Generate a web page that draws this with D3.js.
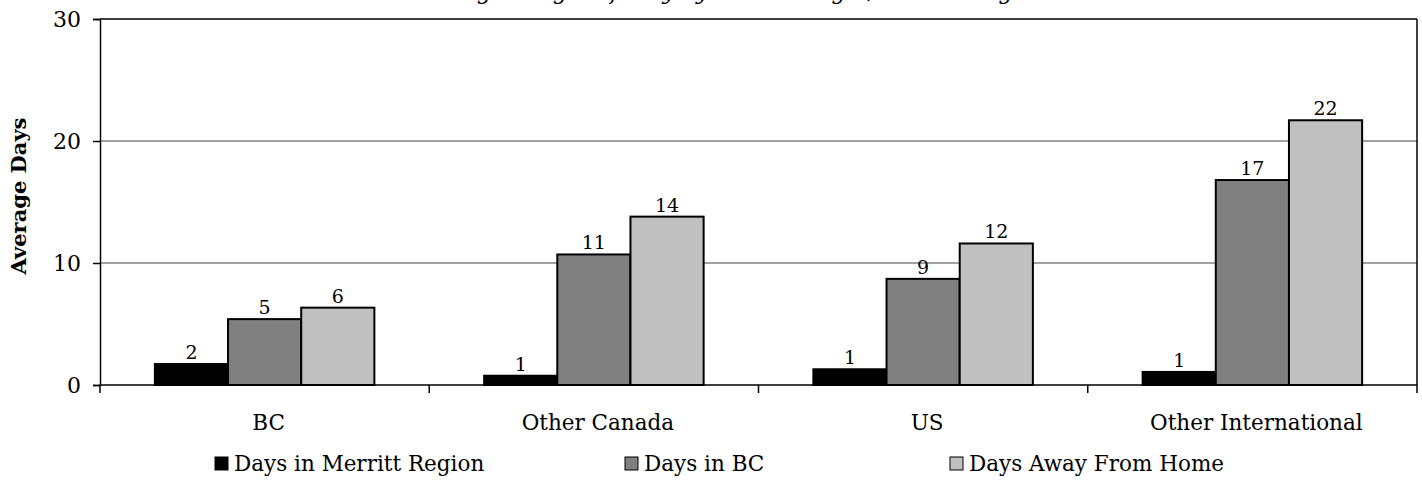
<!DOCTYPE html>
<html>
<head>
<meta charset="utf-8">
<script src="https://cdn.jsdelivr.net/npm/d3@7"></script>
<style>
  html, body { margin: 0; padding: 0; background: #fff; }
  svg { display: block; }
  text { font-family: "DejaVu Serif", "Liberation Serif", serif; fill: #000; }
</style>
</head>
<body>
<svg id="chart" width="1422" height="480"></svg>
<script>
// Average days by visitor origin
const categories = ["BC", "Other Canada", "US", "Other International"];
const seriesNames = ["Days in Merritt Region", "Days in BC", "Days Away From Home"];
const merrittDays = [1.72, 0.76, 1.29, 1.07];
const bcDays = [5.4, 10.7, 8.7, 16.8];
const awayDays = [6.34, 13.8, 11.6, 21.7];
const seriesColors = ["#000000", "#808080", "#c0c0c0"];
const yTicks = [0, 10, 20, 30];
const titleText = "Average Length of Stay by Visitor Origin, Merritt Region";

const series = [merrittDays, bcDays, awayDays];

const W = 1422, H = 480;
const m = { left: 100, right: 1417, top: 19, bottom: 385 };

const svg = d3.select("#chart");

const x0 = d3.scaleBand().domain(categories).range([m.left, m.right]).padding(0);
// Excel-style gap width of 150%: three bars plus 1.5 bar widths of gap per band
const x1 = d3.scaleBand().domain(d3.range(series.length))
  .range([0, x0.bandwidth()]).paddingInner(0).paddingOuter(0.75);
const y = d3.scaleLinear().domain([0, 30]).range([m.bottom, m.top]);

// Title (sits above the plot, mostly beyond the top edge)
svg.append("text")
  .attr("x", 730).attr("y", -1)
  .attr("text-anchor", "middle")
  .attr("font-style", "italic")
  .attr("font-size", 22)
  .text(titleText);

// Gridlines
svg.append("g").selectAll("line")
  .data(yTicks.filter(t => t > 0 && t < 30))
  .join("line")
  .attr("x1", m.left).attr("x2", m.right)
  .attr("y1", d => y(d)).attr("y2", d => y(d))
  .attr("stroke", "#808080").attr("stroke-width", 1.5);

// Top and right frame
svg.append("line")
  .attr("x1", m.left).attr("x2", m.right)
  .attr("y1", y(30)).attr("y2", y(30))
  .attr("stroke", "#000").attr("stroke-width", 1.5);
svg.append("line")
  .attr("x1", m.right).attr("x2", m.right)
  .attr("y1", y(30)).attr("y2", m.bottom)
  .attr("stroke", "#000").attr("stroke-width", 1.5);

// Bars
const groups = svg.append("g").selectAll("g")
  .data(categories)
  .join("g")
  .attr("transform", d => `translate(${x0(d)},0)`);

groups.selectAll("rect")
  .data((c, i) => series.map((s, k) => ({ k, v: s[i] })))
  .join("rect")
  .attr("x", d => x1(d.k))
  .attr("width", x1.bandwidth())
  .attr("y", d => y(d.v))
  .attr("height", d => y(0) - y(d.v))
  .attr("fill", d => seriesColors[d.k])
  .attr("stroke", "#000")
  .attr("stroke-width", 2);

// Value labels
groups.selectAll("text.val")
  .data((c, i) => series.map((s, k) => ({ k, v: s[i] })))
  .join("text")
  .attr("class", "val")
  .attr("x", d => x1(d.k) + x1.bandwidth() / 2)
  .attr("y", d => y(d.v) - 5)
  .attr("text-anchor", "middle")
  .attr("font-size", 19)
  .text(d => d3.format(".0f")(d.v));

// Y axis
const yAxis = svg.append("g")
  .attr("transform", `translate(${m.left},0)`)
  .call(d3.axisLeft(y).tickValues(yTicks).tickSize(7).tickPadding(12).tickFormat(d3.format("d")));
yAxis.select(".domain").attr("stroke", "#000").attr("stroke-width", 1.5);
yAxis.selectAll(".tick line").attr("stroke", "#000").attr("stroke-width", 1.5);
yAxis.selectAll(".tick text")
  .attr("font-family", "DejaVu Serif")
  .attr("font-size", 22)
  .attr("fill", "#000");

// X axis: ticks at category boundaries
const xAxis = svg.append("g")
  .attr("transform", `translate(0,${m.bottom})`);
xAxis.append("line")
  .attr("x1", m.left).attr("x2", m.right)
  .attr("stroke", "#000").attr("stroke-width", 1.5);
const bounds = categories.map(c => x0(c)).concat([m.right]);
xAxis.selectAll("line.tk")
  .data(bounds)
  .join("line")
  .attr("class", "tk")
  .attr("x1", d => d).attr("x2", d => d)
  .attr("y1", 0).attr("y2", 8)
  .attr("stroke", "#000").attr("stroke-width", 1.5);
xAxis.selectAll("text")
  .data(categories)
  .join("text")
  .attr("x", d => x0(d) + x0.bandwidth() / 2 + 4)
  .attr("y", 45)
  .attr("text-anchor", "middle")
  .attr("font-size", 21.5)
  .text(d => d);

// Y axis title
svg.append("text")
  .attr("transform", `translate(26,${(m.top + m.bottom) / 2 - 6}) rotate(-90)`)
  .attr("text-anchor", "middle")
  .attr("font-weight", "bold")
  .attr("font-size", 21)
  .text("Average Days");

// Legend
const legendX = [215, 625, 950];
const legend = svg.append("g").selectAll("g")
  .data(seriesNames)
  .join("g")
  .attr("transform", (d, i) => `translate(${legendX[i]},464)`);
legend.append("rect")
  .attr("x", 0).attr("y", -7)
  .attr("width", 13).attr("height", 13)
  .attr("fill", (d, i) => seriesColors[i])
  .attr("stroke", "#000").attr("stroke-width", 1);
legend.append("text")
  .attr("x", 19).attr("y", 7)
  .attr("font-size", 21.5)
  .text(d => d);
</script>
</body>
</html>
